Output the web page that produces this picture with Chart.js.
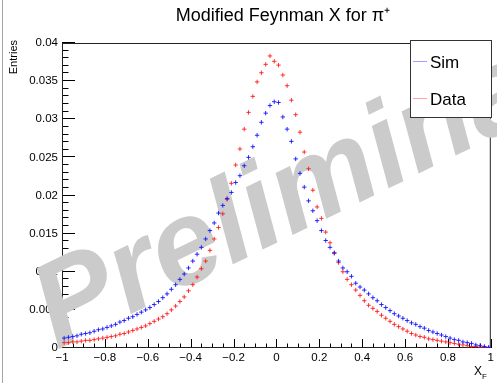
<!DOCTYPE html>
<html><head><meta charset="utf-8">
<script src="https://cdn.jsdelivr.net/npm/chart.js@4/dist/chart.umd.min.js"></script>
<style>html,body{margin:0;padding:0;background:#fff;}#wrap{position:relative;width:497px;height:383px;}</style>
</head><body><div id="wrap"><canvas id="c" width="497" height="383"></canvas></div>
<script>
// Bin centres of X_F (100 bins from -1 to 1)
const xF = [-0.99,-0.97,-0.95,-0.93,-0.91,-0.89,-0.87,-0.85,-0.83,-0.81,
  -0.79,-0.77,-0.75,-0.73,-0.71,-0.69,-0.67,-0.65,-0.63,-0.61,
  -0.59,-0.57,-0.55,-0.53,-0.51,-0.49,-0.47,-0.45,-0.43,-0.41,
  -0.39,-0.37,-0.35,-0.33,-0.31,-0.29,-0.27,-0.25,-0.23,-0.21,
  -0.19,-0.17,-0.15,-0.13,-0.11,-0.09,-0.07,-0.05,-0.03,-0.01,
  0.01,0.03,0.05,0.07,0.09,0.11,0.13,0.15,0.17,0.19,
  0.21,0.23,0.25,0.27,0.29,0.31,0.33,0.35,0.37,0.39,
  0.41,0.43,0.45,0.47,0.49,0.51,0.53,0.55,0.57,0.59,
  0.61,0.63,0.65,0.67,0.69,0.71,0.73,0.75,0.77,0.79,
  0.81,0.83,0.85,0.87,0.89,0.91,0.93,0.95,0.97,0.99];

const simEntries = [0.0013,0.0014,0.0015,0.0016,0.0018,0.0019,0.0020,0.0022,0.0024,0.0025,
  0.0027,0.0029,0.0031,0.0034,0.0036,0.0039,0.0041,0.0044,0.0047,0.0050,
  0.0053,0.0057,0.0061,0.0066,0.0071,0.0077,0.0083,0.0090,0.0097,0.0105,
  0.0114,0.0123,0.0132,0.0143,0.0154,0.0164,0.0177,0.0187,0.0196,0.0204,
  0.0217,0.0226,0.0239,0.0250,0.0264,0.0279,0.0296,0.0308,0.0318,0.0323,
  0.0322,0.0303,0.0287,0.0271,0.0248,0.0229,0.0211,0.0193,0.0180,0.0167,
  0.0154,0.0141,0.0132,0.0125,0.0114,0.0105,0.0100,0.0094,0.0085,0.0080,
  0.0076,0.0071,0.0066,0.0062,0.0057,0.0053,0.0049,0.0045,0.0042,0.0039,
  0.0036,0.0033,0.0031,0.0028,0.0026,0.0023,0.0021,0.0019,0.0017,0.0015,
  0.0013,0.0011,0.0010,0.0008,0.0007,0.0006,0.0004,0.0003,0.0002,0.0001];

const dataEntries = [0.0007,0.0007,0.0008,0.0008,0.0009,0.0010,0.0010,0.0011,0.0012,0.0013,
  0.0014,0.0015,0.0016,0.0018,0.0019,0.0021,0.0023,0.0025,0.0027,0.0029,
  0.0032,0.0035,0.0038,0.0041,0.0045,0.0050,0.0055,0.0061,0.0067,0.0075,
  0.0083,0.0093,0.0104,0.0114,0.0128,0.0143,0.0158,0.0176,0.0195,0.0216,
  0.0240,0.0261,0.0287,0.0309,0.0330,0.0349,0.0361,0.0372,0.0383,0.0376,
  0.0371,0.0358,0.0344,0.0325,0.0306,0.0283,0.0257,0.0235,0.0207,0.0185,
  0.0170,0.0152,0.0138,0.0124,0.0112,0.0100,0.0090,0.0083,0.0076,0.0069,
  0.0062,0.0056,0.0052,0.0048,0.0043,0.0039,0.0035,0.0031,0.0028,0.0025,
  0.0022,0.0019,0.0017,0.0015,0.0014,0.0012,0.0011,0.0010,0.0009,0.0008,
  0.0007,0.0006,0.0005,0.0004,0.0003,0.0002,0.0002,0.0001,0.0001,0.0000];

const xTickLabels = ['\u22121','\u22120.8','\u22120.6','\u22120.4','\u22120.2','0','0.2','0.4','0.6','0.8','1'];
const yTickLabels = ['0','0.005','0.01','0.015','0.02','0.025','0.03','0.035','0.04'];
const seriesNames = ['Sim','Data'];
const titleText = 'Modified Feynman X for \u03c0\u207a';
const yTitle = 'Entries';
const xTitle = ['X','F'];
const watermark = 'Preliminary';

const FONT = "'Liberation Sans', Arial, Helvetica, sans-serif";

const decor = {
  id: 'decor',
  beforeDatasetsDraw(chart) {
    const {ctx, chartArea: a, scales: {x, y}} = chart;
    ctx.save();
    // inward tick marks
    ctx.strokeStyle = '#000'; ctx.lineWidth = 1;
    ctx.beginPath();
    for (let k = 0; k <= 40; k++) {
      const px = Math.round(x.getPixelForValue(-1 + k * 0.05)) + 0.5;
      const len = (k % 4 === 0) ? 9 : 4.5;
      ctx.moveTo(px, a.bottom); ctx.lineTo(px, a.bottom - len);
    }
    for (let k = 0; k <= 40; k++) {
      const py = Math.round(y.getPixelForValue(k * 0.001)) - 0.5;
      const len = (k % 5 === 0) ? 13 : 6.5;
      ctx.moveTo(a.left, py); ctx.lineTo(a.left + len, py);
    }
    ctx.stroke();
    // frame
    ctx.strokeStyle = '#222';
    ctx.strokeRect(a.left + 0.5, a.top + 0.5, a.right - a.left - 1, a.bottom - a.top - 1);
    // outer left edge line
    ctx.strokeStyle = 'rgba(0,0,0,0.35)';
    ctx.beginPath(); ctx.moveTo(2.5, 0); ctx.lineTo(2.5, 383); ctx.stroke();
    // title
    ctx.fillStyle = '#000';
    ctx.font = '18px ' + FONT;
    ctx.textAlign = 'center'; ctx.textBaseline = 'middle';
    ctx.fillText(titleText, 283, 16);
    // y title
    ctx.save();
    ctx.translate(14, 40); ctx.rotate(-Math.PI / 2);
    ctx.font = '11px ' + FONT; ctx.textAlign = 'right'; ctx.textBaseline = 'middle';
    ctx.fillText(yTitle, 0, 0);
    ctx.restore();
    // x title with subscript
    ctx.font = '12px ' + FONT; ctx.textAlign = 'left'; ctx.textBaseline = 'alphabetic';
    ctx.fillText(xTitle[0], 474, 375);
    ctx.font = '8px ' + FONT;
    ctx.fillText(xTitle[1], 482, 379);
    // watermark
    ctx.save();
    ctx.translate(57, 350); ctx.rotate(-26 * Math.PI / 180);
    ctx.fillStyle = '#cbcbcb';
    ctx.font = 'italic bold 120px ' + FONT; ctx.textAlign = 'left'; ctx.textBaseline = 'alphabetic';
    ctx.fillText(watermark, 0, 0);
    ctx.restore();
    ctx.restore();
  },
  afterDraw(chart) {
    const ctx = chart.ctx;
    ctx.save();
    ctx.fillStyle = '#fff';
    ctx.fillRect(410, 40, 82, 77);
    ctx.strokeStyle = '#333'; ctx.lineWidth = 1;
    ctx.strokeRect(410.5, 40.5, 81, 77);
    const rows = [[61, 'rgba(70,70,255,0.5)'], [98, 'rgba(255,70,70,0.5)']];
    ctx.font = '17px ' + FONT; ctx.textAlign = 'left'; ctx.textBaseline = 'middle';
    rows.forEach((r, i) => {
      ctx.strokeStyle = r[1];
      ctx.beginPath(); ctx.moveTo(413, r[0] + 0.5); ctx.lineTo(427, r[0] + 0.5); ctx.stroke();
      ctx.fillStyle = '#000';
      ctx.fillText(seriesNames[i], 430, r[0] + 2);
    });
    ctx.restore();
  }
};

new Chart(document.getElementById('c'), {
  type: 'scatter',
  data: {
    datasets: [
      { label: seriesNames[0], data: xF.map((v, i) => ({x: v, y: simEntries[i]})),
        pointStyle: 'cross', radius: 2.2, borderWidth: 1, borderColor: 'rgba(20,20,255,0.9)', backgroundColor: 'rgba(20,20,255,0.9)' },
      { label: seriesNames[1], data: xF.map((v, i) => ({x: v, y: dataEntries[i]})),
        pointStyle: 'cross', radius: 2.2, borderWidth: 1, borderColor: 'rgba(255,20,20,0.85)', backgroundColor: 'rgba(255,20,20,0.85)' }
    ]
  },
  options: {
    responsive: false, animation: false, devicePixelRatio: 1,
    layout: { padding: { top: 43, right: 5, left: 0, bottom: 0 } },
    plugins: { legend: { display: false }, title: { display: false }, tooltip: { enabled: false } },
    scales: {
      x: {
        type: 'linear', min: -1, max: 1,
        afterFit(s) { s.height = 35; },
        grid: { display: false, drawTicks: false },
        border: { display: false },
        ticks: { stepSize: 0.2, autoSkip: false, maxRotation: 0, padding: 3, color: '#000',
          font: { family: FONT, size: 11.5 },
          callback: (v) => xTickLabels[Math.round((v + 1) / 0.2)] }
      },
      y: {
        min: 0, max: 0.04,
        afterFit(s) { s.width = 62; },
        grid: { display: false, drawTicks: false },
        border: { display: false },
        ticks: { stepSize: 0.005, autoSkip: false, padding: 4, color: '#000',
          font: { family: FONT, size: 11.5 },
          callback: (v) => yTickLabels[Math.round(v / 0.005)] }
      }
    }
  },
  plugins: [decor]
});
</script>
</body></html>
